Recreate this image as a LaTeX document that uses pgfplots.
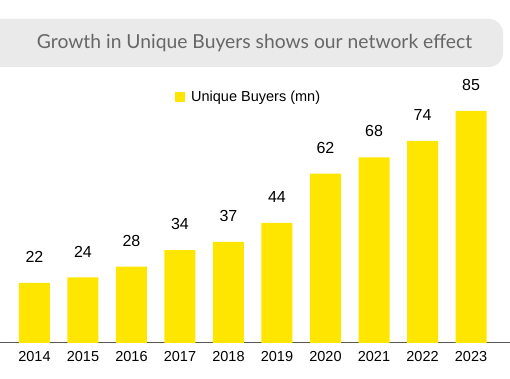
\documentclass[border=0pt]{standalone}
\usepackage{pgfplots}
\pgfplotsset{compat=1.18}
\usepackage{fontspec}
\setmainfont{Liberation Sans}
\newfontfamily\titlefont{Lato}
\definecolor{eyyellow}{HTML}{FFE600}
\definecolor{boxgray}{HTML}{EBEAEA}
\definecolor{titlegray}{HTML}{666666}
\definecolor{basegray}{HTML}{595959}
\begin{document}
\begin{tikzpicture}
\clip (0,0) rectangle (510pt,379pt);
\fill[boxgray, rounded corners=14pt] (-20pt,312pt) rectangle (503pt,360pt);
\node[text=titlegray, font=\titlefont\fontsize{19.3}{22}\selectfont, inner sep=0pt] at (254.5pt,336pt) {Growth in Unique Buyers shows our network effect};
\begin{axis}[
  at={(0pt,36pt)}, anchor=south west,
  scale only axis, width=510pt, height=343pt,
  xmin=-0.711, xmax=9.804, ymin=0, ymax=125.6,
  axis x line*=bottom, axis y line=none,
  x axis line style={basegray, line width=1pt, -},
  xtick=data,
  xticklabels={2014,2015,2016,2017,2018,2019,2020,2021,2022,2023},
  major tick length=0pt,
  ytick=\empty,
  /pgf/number format/assume math mode=true,
  xticklabel style={font=\fontsize{14.5}{17}\selectfont, text=black, yshift=-5pt},
  ybar, bar width=31pt,
  nodes near coords,
  every node near coord/.append style={font=\fontsize{16}{18}\selectfont, text=black, anchor=south, inner sep=0pt, yshift=20pt},
  legend style={at={(0.3431,0.7172)}, anchor=west, draw=none, fill=none, inner sep=0pt,
    font=\fontsize{14.5}{17}\selectfont, column sep=4pt},
]
\addplot[fill=eyyellow, draw=none,
  legend image code/.code={\fill[eyyellow] (0pt,-5pt) rectangle (10pt,5pt);}]
  coordinates {(0,22) (1,24) (2,28) (3,34) (4,37) (5,44) (6,62) (7,68) (8,74) (9,85)};
\legend{Unique Buyers (mn)}
\end{axis}
\end{tikzpicture}
\end{document}
